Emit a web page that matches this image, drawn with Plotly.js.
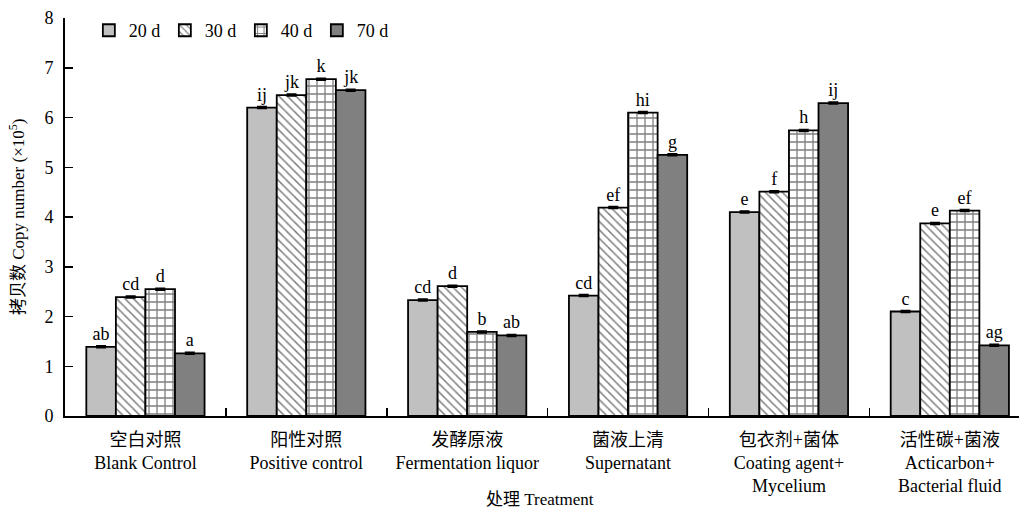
<!DOCTYPE html>
<html>
<head>
<meta charset="utf-8">
<script src="https://cdn.plot.ly/plotly-3.0.1.min.js"></script>
<style>html,body{margin:0;padding:0;background:#fff;}#chart{width:1019px;height:511px;}</style>
</head>
<body>
<div id="chart"></div>
<script>
const categories = [
  "空白对照<br>Blank Control",
  "阳性对照<br>Positive control",
  "发酵原液<br>Fermentation liquor",
  "菌液上清<br>Supernatant",
  "包衣剂+菌体<br>Coating agent+<br>Mycelium",
  "活性碳+菌液<br>Acticarbon+<br>Bacterial fluid"
];
const seriesNames = ["20 d", "30 d", "40 d", "70 d"];
const v20 = [1.39, 6.20, 2.33, 2.42, 4.10, 2.10];
const v30 = [2.39, 6.45, 2.61, 4.19, 4.51, 3.87];
const v40 = [2.55, 6.77, 1.69, 6.10, 5.74, 4.13];
const v70 = [1.26, 6.55, 1.62, 5.25, 6.29, 1.42];
const e20 = [0.01, 0.01, 0.01, 0.01, 0.01, 0.01];
const e30 = [0.01, 0.01, 0.01, 0.01, 0.01, 0.01];
const e40 = [0.01, 0.01, 0.01, 0.01, 0.01, 0.01];
const e70 = [0.01, 0.01, 0.01, 0.01, 0.01, 0.01];
const l20 = ["ab", "ij", "cd", "cd", "e", "c"];
const l30 = ["cd", "jk", "d", "ef", "f", "e"];
const l40 = ["d", "k", "b", "hi", "h", "ef"];
const l70 = ["a", "jk", "ab", "g", "ij", "ag"];
const yTicks = [0, 1, 2, 3, 4, 5, 6, 7, 8];

const FONT = "'Liberation Serif', 'Times New Roman', 'Noto Sans CJK SC', serif";
const values = [v20, v30, v40, v70];
const errs = [e20, e30, e40, e70];
const letters = [l20, l30, l40, l70];
const markers = [
  {color: "#c0c0c0", line: {color: "#000", width: 1.8}},
  {color: "#ffffff", line: {color: "#000", width: 1.8}, pattern: {shape: "\\", bgcolor: "#ffffff", fgcolor: "#000000", size: 6, solidity: 0.25, fillmode: "overlay"}},
  {color: "#ffffff", line: {color: "#000", width: 1.8}, pattern: {shape: "+", bgcolor: "#ffffff", fgcolor: "#000000", size: 8, solidity: 0.3, fillmode: "overlay"}},
  {color: "#808080", line: {color: "#000", width: 1.8}}
];

const traces = seriesNames.map((n, i) => ({
  type: "bar",
  name: n,
  x: categories,
  y: values[i],
  marker: markers[i],
  error_y: {type: "data", array: errs[i], visible: true, color: "#000", thickness: 2.5, width: 5},
  text: letters[i],
  textposition: "outside",
  textfont: {family: FONT, size: 18, color: "#000"},
  constraintext: "none",
  cliponaxis: false,
  hoverinfo: "none"
}));

const layout = {
  width: 1019, height: 511,
  margin: {l: 65, r: 0, t: 18, b: 95},
  paper_bgcolor: "#fff", plot_bgcolor: "#fff",
  font: {family: FONT, size: 18, color: "#000"},
  barmode: "group",
  bargap: 0.265,
  bargroupgap: 0,
  showlegend: true,
  legend: {
    orientation: "h", x: 0.025, y: 1.015, xanchor: "left", yanchor: "top",
    font: {family: FONT, size: 18, color: "#000"},
    bgcolor: "rgba(0,0,0,0)", traceorder: "normal",
    entrywidth: 31, entrywidthmode: "pixels"
  },
  xaxis: {
    type: "category",
    range: [-0.5, 5.43],
    showline: true, linecolor: "#000", linewidth: 2,
    ticks: "inside", tickson: "boundaries", ticklen: 8, tickwidth: 1.5, tickcolor: "#000",
    showgrid: false, zeroline: false,
    tickfont: {family: FONT, size: 18, color: "#000"},
    ticklabelstandoff: 6,
    tickangle: 0
  },
  yaxis: {
    range: [0, 8],
    tickvals: yTicks,
    showline: true, linecolor: "#000", linewidth: 2,
    ticks: "inside", ticklen: 8, tickwidth: 1.5, tickcolor: "#000",
    showgrid: false, zeroline: false,
    ticklabelstandoff: 6,
    tickfont: {family: FONT, size: 18, color: "#000"}
  },
  annotations: [
    {text: "处理 Treatment", xref: "paper", yref: "paper", x: 0.498, y: -0.209,
     xanchor: "center", yanchor: "middle", showarrow: false,
     font: {family: FONT, size: 17, color: "#000"}},
    {text: "拷贝数 Copy number (×10<sup>5</sup>)", xref: "paper", yref: "paper", x: -0.0503, y: 0.5,
     xanchor: "center", yanchor: "middle", textangle: -90, showarrow: false,
     font: {family: FONT, size: 17, color: "#000"}}
  ]
};

Plotly.newPlot("chart", traces, layout, {displayModeBar: false, staticPlot: true});
</script>
</body>
</html>
